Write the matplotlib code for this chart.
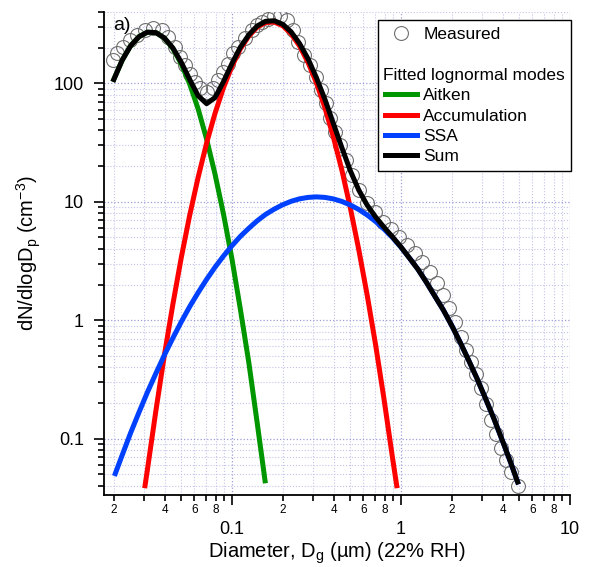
import matplotlib.pyplot as plt
from matplotlib.lines import Line2D
from matplotlib.ticker import FixedLocator, FixedFormatter

plt.rcParams["font.family"] = ["Liberation Sans", "DejaVu Sans"]
plt.rcParams["mathtext.fontset"] = "custom"
plt.rcParams["mathtext.rm"] = "Liberation Sans"
plt.rcParams["mathtext.it"] = "Liberation Sans:italic"

# measured size distribution
diam_measured = [0.0198, 0.0209, 0.0226, 0.0249, 0.0274, 0.0306, 0.0341, 0.0385,
                 0.0418, 0.0460, 0.0492, 0.0527, 0.0564, 0.0604, 0.0647, 0.0711,
                 0.0772, 0.0826, 0.0885, 0.0947, 0.101, 0.109, 0.119, 0.131,
                 0.141, 0.151, 0.163, 0.177, 0.192, 0.211, 0.230, 0.246,
                 0.267, 0.290, 0.314, 0.336, 0.360, 0.380, 0.407, 0.435,
                 0.473, 0.513, 0.564, 0.629, 0.701, 0.782, 0.873, 0.973,
                 1.086, 1.21, 1.33, 1.49, 1.63, 1.77, 1.92, 2.09,
                 2.26, 2.43, 2.59, 2.78, 2.97, 3.18, 3.41, 3.65,
                 3.91, 4.18, 4.48, 4.92]
conc_measured = [156, 179, 201, 231, 254, 280, 291, 280,
                 244, 201, 166, 142, 121, 102, 91, 84,
                 91, 106, 124, 147, 179, 201, 240, 280,
                 308, 327, 347, 368, 368, 340, 280, 222,
                 172, 142, 112, 87, 68, 51, 39, 30,
                 22.4, 16.7, 12.5, 9.7, 8.2, 6.8, 5.9, 5.0,
                 4.3, 3.7, 3.1, 2.54, 2.05, 1.63, 1.26, 0.96,
                 0.72, 0.56, 0.44, 0.35, 0.27, 0.195, 0.143, 0.109,
                 0.083, 0.066, 0.052, 0.040]

# fitted lognormal modes
diam_aitken = [0.0200, 0.0224, 0.0251, 0.0282, 0.0316, 0.0355, 0.0398, 0.0447,
               0.0501, 0.0562, 0.0631, 0.0708, 0.0794, 0.0891, 0.100, 0.112,
               0.126, 0.141, 0.157]
conc_aitken = [108, 156, 207, 248, 270, 268, 241, 197,
               146, 98.8, 60.7, 33.8, 17.1, 7.88, 3.29, 1.25,
               0.433, 0.136, 0.044]

diam_accum = [0.0306, 0.0316, 0.0355, 0.0398, 0.0447, 0.0501, 0.0562, 0.0631,
              0.0708, 0.0794, 0.0891, 0.100, 0.112, 0.126, 0.141, 0.158,
              0.178, 0.200, 0.224, 0.251, 0.282, 0.316, 0.355, 0.398,
              0.447, 0.501, 0.562, 0.631, 0.708, 0.794, 0.891, 0.944]
conc_accum = [0.040, 0.0545, 0.173, 0.504, 1.36, 3.36, 7.66, 16.1,
              31.3, 55.8, 91.9, 139, 195, 251, 298, 326,
              329, 306, 262, 207, 150, 101, 62.1, 35.3,
              18.5, 8.95, 3.98, 1.63, 0.618, 0.215, 0.069, 0.040]

diam_ssa = [0.0204, 0.0224, 0.0251, 0.0282, 0.0316, 0.0355, 0.0398, 0.0447,
            0.0501, 0.0562, 0.0631, 0.0708, 0.0794, 0.0891, 0.100, 0.112,
            0.126, 0.141, 0.158, 0.178, 0.200, 0.224, 0.251, 0.282,
            0.316, 0.355, 0.398, 0.447, 0.501, 0.562, 0.631, 0.708,
            0.794, 0.891, 1.00, 1.12, 1.26, 1.41, 1.58, 1.78,
            2.00, 2.24, 2.51, 2.82, 3.16, 3.55, 3.98, 4.47, 4.90]
conc_ssa = [0.0506, 0.0723, 0.111, 0.167, 0.246, 0.356, 0.506, 0.706,
            0.966, 1.30, 1.71, 2.21, 2.80, 3.48, 4.25, 5.09,
            5.98, 6.90, 7.81, 8.67, 9.44, 10.09, 10.58, 10.88,
            10.99, 10.88, 10.57, 10.06, 9.40, 8.61, 7.73, 6.81,
            5.87, 4.98, 4.13, 3.36, 2.69, 2.10, 1.61, 1.22,
            0.898, 0.650, 0.461, 0.321, 0.219, 0.147, 0.0964, 0.0621, 0.0430]

diam_sum = [0.0200, 0.0224, 0.0251, 0.0282, 0.0316, 0.0355, 0.0398, 0.0447,
            0.0501, 0.0562, 0.0631, 0.0708, 0.0794, 0.0891, 0.100, 0.112,
            0.126, 0.141, 0.158, 0.178, 0.200, 0.224, 0.251, 0.282,
            0.316, 0.355, 0.398, 0.447, 0.501, 0.562, 0.631, 0.708,
            0.794, 0.891, 1.00, 1.12, 1.26, 1.41, 1.58, 1.78,
            2.00, 2.24, 2.51, 2.82, 3.16, 3.55, 3.98, 4.47, 4.90]
conc_sum = [107.7, 156.6, 206.7, 247.8, 270.4, 268.1, 241.8, 199.0,
            150.6, 107.8, 78.5, 67.3, 75.7, 103.3, 146.9, 201.3,
            257.4, 305, 333.8, 337.7, 314.9, 271.7, 217.1, 160.9,
            111.5, 73.0, 45.9, 28.6, 18.35, 12.6, 9.36, 7.43,
            6.09, 5.05, 4.15, 3.36, 2.69, 2.10, 1.61, 1.22,
            0.898, 0.650, 0.461, 0.321, 0.219, 0.147, 0.0964, 0.0621, 0.0430]

mode_colors = {"Aitken": "#009600", "Accumulation": "#ff0000",
               "SSA": "#0040ff", "Sum": "#000000"}


def style_axes(ax):
    ax.set_xscale("log")
    ax.set_yscale("log")
    ax.set_xlim(0.0175, 10)
    ax.set_ylim(0.0334, 400)

    ax.xaxis.set_major_locator(FixedLocator([0.1, 1, 10]))
    ax.xaxis.set_major_formatter(FixedFormatter(["0.1", "1", "10"]))
    x_minor = [m * d for d in (0.01, 0.1, 1) for m in range(2, 10)]
    x_minor_lbl = [str(m) if m % 2 == 0 else "" for d in (0.01, 0.1, 1) for m in range(2, 10)]
    ax.xaxis.set_minor_locator(FixedLocator(x_minor))
    ax.xaxis.set_minor_formatter(FixedFormatter(x_minor_lbl))

    ax.yaxis.set_major_locator(FixedLocator([0.1, 1, 10, 100]))
    ax.yaxis.set_major_formatter(FixedFormatter(["0.1", "1", "10", "100"]))
    y_minor = [m * d for d in (0.01, 0.1, 1, 10, 100) for m in range(2, 10)]
    ax.yaxis.set_minor_locator(FixedLocator(y_minor))
    ax.yaxis.set_minor_formatter(FixedFormatter([""] * len(y_minor)))

    ax.tick_params(which="both", direction="out", width=1.2, color="black")
    ax.tick_params(which="major", length=7.5)
    ax.tick_params(which="minor", length=4.5)
    ax.tick_params(axis="x", which="major", labelsize=13, pad=11)
    ax.tick_params(axis="x", which="minor", labelsize=8.5, pad=2)
    ax.tick_params(axis="y", which="major", labelsize=13, pad=7)

    ax.grid(which="major", color="#9d9dd8", linestyle=":", linewidth=0.9)
    ax.grid(which="minor", color="#c4c4ea", linestyle=":", linewidth=0.8)
    ax.set_axisbelow(True)

    for side in ("top", "right"):
        ax.spines[side].set_visible(False)
    for side in ("left", "bottom"):
        ax.spines[side].set_linewidth(1.3)


def plot_distribution():
    fig = plt.figure(figsize=(5.89, 5.67), dpi=100)
    ax = fig.add_axes([0.1766, 0.127, 0.7911, 0.8518])
    style_axes(ax)

    ax.plot(diam_measured, conc_measured, ls="none", marker="o", ms=10,
            mfc="none", mec="#707070", mew=0.8, zorder=2)
    ax.plot(diam_aitken, conc_aitken, color=mode_colors["Aitken"], lw=3.6, zorder=3)
    ax.plot(diam_accum, conc_accum, color=mode_colors["Accumulation"], lw=3.6, zorder=3)
    ax.plot(diam_ssa, conc_ssa, color=mode_colors["SSA"], lw=3.6, zorder=3)
    ax.plot(diam_sum, conc_sum, color=mode_colors["Sum"], lw=3.6, zorder=4)

    ax.set_xlabel(r"Diameter, D$_\mathrm{g}$ (µm) (22% RH)", fontsize=14.5, labelpad=2)
    ax.set_ylabel(r"dN/dlogD$_\mathrm{p}$ (cm$^{\mathrm{-3}}$)", fontsize=14.5, labelpad=8)
    ax.text(0.02, 0.99, "a)", transform=ax.transAxes, fontsize=14, va="top")

    handles = [Line2D([], [], ls="none", marker="o", ms=10, mfc="none",
                      mec="#707070", mew=0.8),
               Line2D([], [], ls="none"), Line2D([], [], ls="none")]
    labels = ["Measured", " ", " "]
    for name, col in mode_colors.items():
        handles.append(Line2D([], [], color=col, lw=3.6))
        labels.append(name)
    leg = ax.legend(handles, labels, loc="upper left", mode="expand",
                    bbox_to_anchor=(0.588, 0.0, 0.414, 0.983),
                    borderaxespad=0, fontsize=12.5, frameon=True, fancybox=False,
                    edgecolor="black", framealpha=1, handlelength=1.85,
                    handletextpad=0.35, labelspacing=0.3, borderpad=0.4)
    leg.get_frame().set_linewidth(1.0)

    # section heading inside the legend, aligned on the empty third row
    fig.canvas.draw()
    row = leg.get_texts()[2].get_window_extent()
    frame = leg.get_frame().get_window_extent()
    to_axes = ax.transAxes.inverted()
    hx, hy = to_axes.transform((frame.x0 + 5, (row.y0 + row.y1) / 2))
    ax.text(hx, hy, "Fitted lognormal modes", transform=ax.transAxes,
            fontsize=12.5, va="center", ha="left", zorder=10)

    fig.savefig("out.png", dpi=100)


if __name__ == "__main__":
    plot_distribution()
